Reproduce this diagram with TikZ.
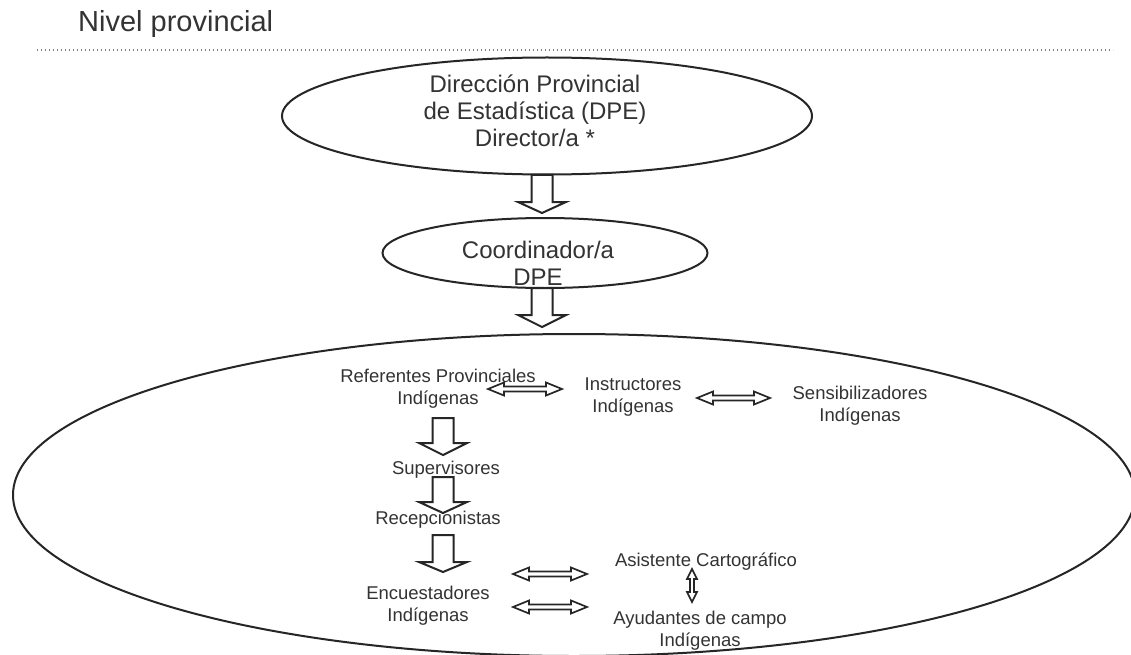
\documentclass[tikz,border=0pt]{standalone}
\usepackage{fontspec}
\setmainfont{Liberation Sans}
\usetikzlibrary{shapes.geometric}
\definecolor{ink}{HTML}{333333}
\definecolor{linec}{HTML}{262626}
\newcommand\blkdown[4]{% x, top, headstart, tip
  \draw[blk] ({#1-10.5},#2) -- ({#1-10.5},#3) -- ({#1-24},#3) -- (#1,#4) -- ({#1+24},#3) -- ({#1+10.5},#3) -- ({#1+10.5},#2) -- cycle;}
\newcommand\hdbl[3]{% x1, x2, y
  \draw[dbl] (#1,#3) -- ({#1+16},{#3-6.5}) -- ({#1+16},{#3-2.5}) -- ({#2-16},{#3-2.5}) -- ({#2-16},{#3-6.5}) -- (#2,#3) -- ({#2-16},{#3+6.5}) -- ({#2-16},{#3+2.5}) -- ({#1+16},{#3+2.5}) -- ({#1+16},{#3+6.5}) -- cycle;}
\newcommand\vdbl[3]{% x, y1, y2
  \draw[dbl] (#1,#2) -- ({#1-5},{#2+10}) -- ({#1-2},{#2+10}) -- ({#1-2},{#3-10}) -- ({#1-5},{#3-10}) -- (#1,#3) -- ({#1+5},{#3-10}) -- ({#1+2},{#3-10}) -- ({#1+2},{#2+10}) -- ({#1+5},{#2+10}) -- cycle;}
\tikzset{
  oval/.style={ellipse, draw=linec, line width=2pt, inner sep=0pt},
  blk/.style={draw=linec, fill=white, line width=2pt, line join=miter},
  dbl/.style={draw=linec, fill=white, line width=1.7pt, line join=miter},
  big/.style={text=ink, align=center, font=\fontsize{24}{27}\selectfont, inner sep=0pt},
  lbl/.style={text=ink, align=center, font=\fontsize{18.5}{22}\selectfont, inner sep=0pt},
}
\begin{document}
\begin{tikzpicture}[x=1pt, y=-1pt]
\clip (0,0) rectangle (1131,655);
\fill[white] (0,0) rectangle (1131,655);
% title
\node[anchor=base west, text=ink, inner sep=0pt, font=\fontsize{29}{33}\selectfont] (title) at (78,32) {Nivel provincial};
\draw[gray, line width=1.2pt, dash pattern=on 1.2pt off 2.8pt] (37,50) -- (1113,50);
% ellipses
\node[oval, minimum width=530pt, minimum height=117pt] (dpeoval) at (547,116) {};
\node[oval, minimum width=325pt, minimum height=70pt] (coordoval) at (545,253) {};
\node[oval, minimum width=1122pt, minimum height=322pt] (bigoval) at (574,495) {};
% block arrows
\blkdown{542}{175}{202}{213}
\blkdown{542}{288}{315}{327}
\blkdown{443}{418}{443}{455}
\blkdown{443}{477}{502}{513}
\blkdown{443}{535}{562}{572}
% double arrows
\hdbl{488}{562}{389}
\hdbl{697}{770}{398}
\hdbl{513}{587}{574}
\hdbl{513}{587}{607}
\vdbl{692}{569}{602}
% texts
\node[big] (dpe) at (535,111) {Dirección Provincial\\de Estadística (DPE)\\Director/a *};
\node[big] (coord) at (538,263) {Coordinador/a\\DPE};
\node[lbl] (ref) at (438,389) {Referentes Provinciales\\Indígenas};
\node[lbl] (instr) at (633,397) {Instructores\\Indígenas};
\node[lbl] (sens) at (860,406) {Sensibilizadores\\Indígenas};
\node[lbl] (sup) at (446,470) {Supervisores};
\node[lbl] (rec) at (438,520) {Recepcionistas};
\node[lbl] (enc) at (428,606) {Encuestadores\\Indígenas};
\node[lbl] (asist) at (706,562) {Asistente Cartográfico};
\node[lbl] (ayud) at (700,631) {Ayudantes de campo\\Indígenas};
\end{tikzpicture}
\end{document}
